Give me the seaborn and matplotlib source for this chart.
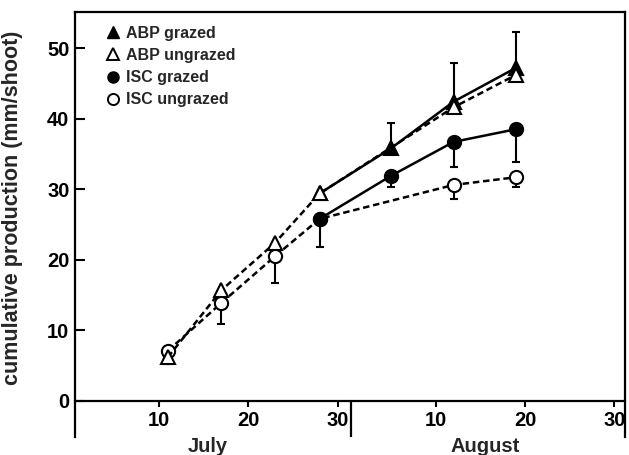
import numpy as np
import pandas as pd
import matplotlib
matplotlib.use("Agg")
import matplotlib.pyplot as plt
from matplotlib.lines import Line2D
import seaborn as sns

# days counted from 30 June (July 1 = 1, August 1 = 32)
abp_g_day = [28, 36, 43, 50]
abp_g_val = [29.4, 35.8, 42.4, 47.2]
abp_g_up = [0, 3.6, 5.5, 5.1]

abp_u_day = [11, 17, 23, 28, 43, 50]
abp_u_val = [6.2, 15.7, 22.4, 29.4, 41.6, 46.2]
abp_u_lo = [1.0, 0, 0, 0, 0, 0]

isc_g_day = [28, 36, 43, 50]
isc_g_val = [25.8, 31.9, 36.7, 38.5]
isc_g_lo = [4.0, 1.6, 3.5, 4.6]

isc_u_day = [11, 17, 23, 28, 43, 50]
isc_u_val = [7.1, 13.9, 20.5, 25.8, 30.6, 31.7]
isc_u_lo = [0, 3.0, 3.8, 0, 2.0, 1.4]

tick_days = [10, 20, 30, 41, 51, 61]
tick_labels = ["10", "20", "30", "10", "20", "30"]
months = ["July", "August"]
month_mid = [15.5, 46.5]

sns.set_theme(style="ticks")
plt.rcParams["font.family"] = ["Liberation Sans", "DejaVu Sans"]
plt.rcParams["font.weight"] = "bold"

fig = plt.figure(figsize=(6.29, 4.55), dpi=100)
ax = fig.add_axes([75/629, 1-437/455, 550/629, 425/455])

lw = 1.8
ms = 9.5
dash = (0, (2.6, 1.5))
eb = dict(fmt="none", ecolor="black", elinewidth=1.5, capsize=2.8, capthick=1.5, zorder=2)

# error bars (one-sided)
ax.errorbar(abp_g_day, abp_g_val, yerr=[np.zeros(len(abp_g_up)), abp_g_up], **eb)
ax.errorbar(abp_u_day, abp_u_val, yerr=[abp_u_lo, np.zeros(len(abp_u_lo))], **eb)
ax.errorbar(isc_g_day, isc_g_val, yerr=[isc_g_lo, np.zeros(len(isc_g_lo))], **eb)
ax.errorbar(isc_u_day, isc_u_val, yerr=[isc_u_lo, np.zeros(len(isc_u_lo))], **eb)

sns.lineplot(x=isc_u_day, y=isc_u_val, ax=ax, color="black", linewidth=lw,
             linestyle=dash, marker="o", markersize=ms, markerfacecolor="white",
             markeredgecolor="black", markeredgewidth=1.5, zorder=3)
sns.lineplot(x=isc_g_day, y=isc_g_val, ax=ax, color="black", linewidth=lw,
             marker="o", markersize=ms, markerfacecolor="black",
             markeredgecolor="black", markeredgewidth=1.5, zorder=4)
sns.lineplot(x=abp_g_day, y=abp_g_val, ax=ax, color="black", linewidth=lw,
             marker="^", markersize=ms, markerfacecolor="black",
             markeredgecolor="black", markeredgewidth=1.5, zorder=3)
sns.lineplot(x=abp_u_day, y=abp_u_val, ax=ax, color="black", linewidth=lw,
             linestyle=dash, marker="^", markersize=ms, markerfacecolor="white",
             markeredgecolor="black", markeredgewidth=1.5, zorder=4)

ax.set_xlim(0.6, 62.2)
ax.set_ylim(-5.1, 55.1)
ax.spines["bottom"].set_position(("data", 0))
for s in ax.spines.values():
    s.set_linewidth(1.6)
    s.set_color("black")

ax.set_xticks(tick_days)
ax.set_xticklabels(tick_labels)
ax.set_yticks([0, 10, 20, 30, 40, 50])
ax.tick_params(axis="x", direction="out", length=4, width=1.5, pad=3, labelsize=14.5, colors="black")
ax.tick_params(axis="y", direction="in", length=7, width=1.5, pad=4, labelsize=14.5, colors="black")

# month separator below the axis
ax.axvline(31.5, ymin=0, ymax=5.1/60.2, color="black", linewidth=1.6)
for m, d in zip(months, month_mid):
    ax.annotate(m, xy=(d, 0), xycoords=("data", "axes fraction"), xytext=(0, 0),
                textcoords="offset points", ha="center", va="top", fontsize=14.5, fontweight="bold")

ax.set_xlabel("")
ax.set_ylabel("cumulative production (mm/shoot)", fontsize=15.5, fontweight="bold")
ax.yaxis.set_label_coords(-0.095, 0.54)

handles = [
    Line2D([], [], marker="^", color="black", linestyle="none", markersize=8, markerfacecolor="black"),
    Line2D([], [], marker="^", color="black", linestyle="none", markersize=8, markerfacecolor="white", markeredgewidth=1.4),
    Line2D([], [], marker="o", color="black", linestyle="none", markersize=8, markerfacecolor="black"),
    Line2D([], [], marker="o", color="black", linestyle="none", markersize=8, markerfacecolor="white", markeredgewidth=1.4),
]
labels = ["ABP grazed", "ABP ungrazed", "ISC grazed", "ISC ungrazed"]
ax.legend(handles, labels, loc="upper left", bbox_to_anchor=(0.052, 0.975), frameon=False,
          fontsize=11.5, handlelength=0.8, handletextpad=0.4, labelspacing=0.45,
          borderaxespad=0, borderpad=0.2)

fig.savefig("out.png", dpi=100)
